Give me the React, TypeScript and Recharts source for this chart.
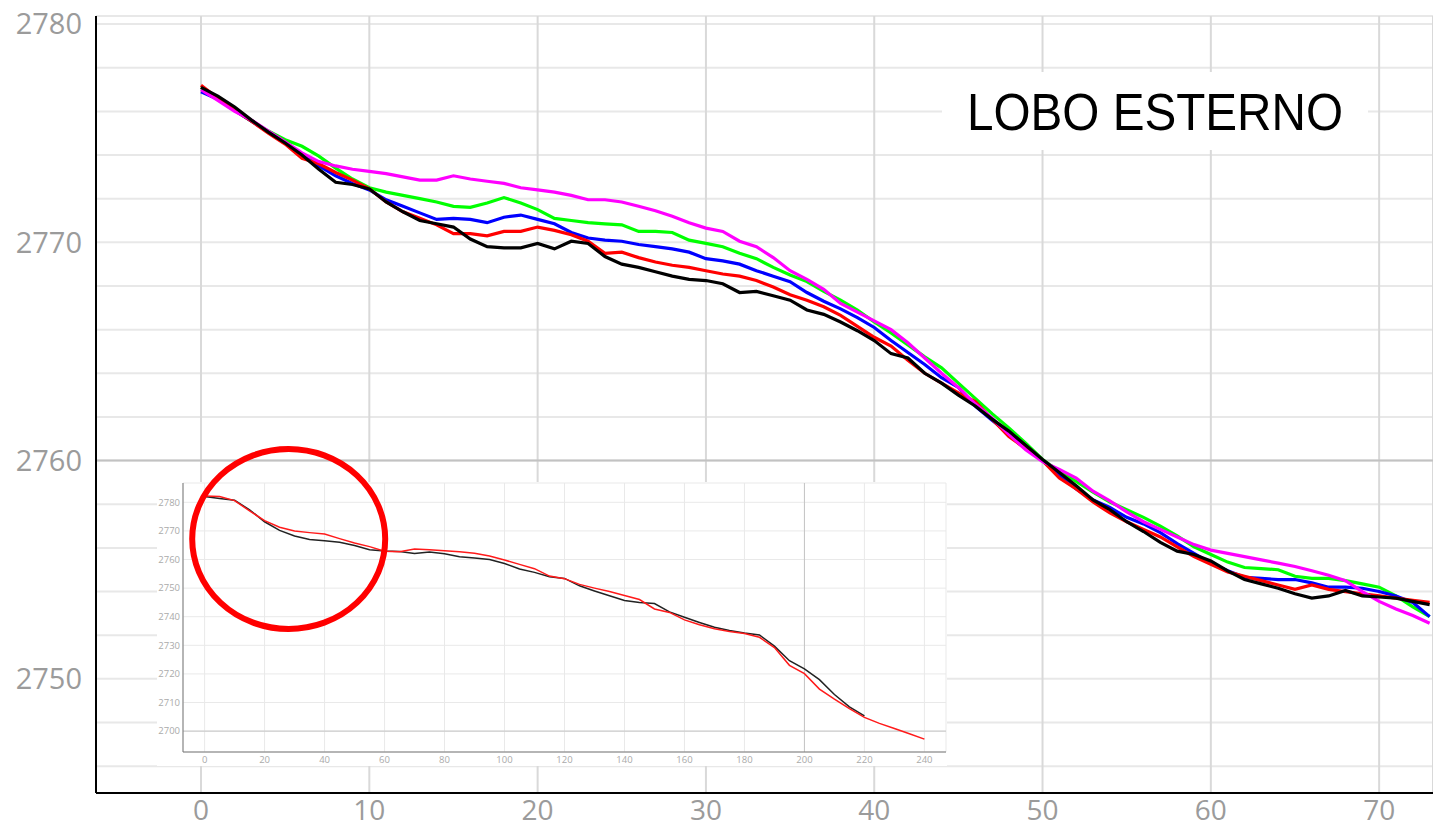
import React from 'react';
import { LineChart, Line, XAxis, YAxis, CartesianGrid, ReferenceLine } from 'recharts';

// ---------- main chart data ----------
const xValues = [
  0, 1, 2, 3, 4, 5, 6, 7, 8, 9, 10, 11, 12, 13, 14, 15, 16, 17, 18, 19,
  20, 21, 22, 23, 24, 25, 26, 27, 28, 29, 30, 31, 32, 33, 34, 35, 36, 37, 38, 39,
  40, 41, 42, 43, 44, 45, 46, 47, 48, 49, 50, 51, 52, 53, 54, 55, 56, 57, 58, 59,
  60, 61, 62, 63, 64, 65, 66, 67, 68, 69, 70, 71, 72, 73,
];

const magentaSeries = [
  2777.0, 2776.5, 2776.0, 2775.6, 2775.1, 2774.6, 2774.1, 2773.7, 2773.5, 2773.35,
  2773.25, 2773.15, 2773.0, 2772.85, 2772.85, 2773.05, 2772.9, 2772.8, 2772.7, 2772.5,
  2772.4, 2772.3, 2772.15, 2771.95, 2771.95, 2771.85, 2771.65, 2771.45, 2771.2, 2770.9,
  2770.65, 2770.5, 2770.05, 2769.8, 2769.3, 2768.7, 2768.3, 2767.85, 2767.2, 2766.8,
  2766.4, 2766.0, 2765.4, 2764.7, 2764.0, 2763.35, 2762.6, 2761.95, 2761.2, 2760.5,
  2759.95, 2759.6, 2759.2, 2758.6, 2758.15, 2757.65, 2757.2, 2756.85, 2756.5, 2756.15,
  2755.9, 2755.75, 2755.6, 2755.45, 2755.3, 2755.15, 2754.95, 2754.75, 2754.5, 2754.0,
  2753.55, 2753.2, 2752.9, 2752.55,
];

const greenSeries = [
  2777.1, 2776.55, 2776.05, 2775.55, 2775.1, 2774.7, 2774.4, 2773.95, 2773.4, 2772.9,
  2772.5, 2772.3, 2772.15, 2772.0, 2771.85, 2771.65, 2771.6, 2771.8, 2772.05, 2771.8,
  2771.5, 2771.1, 2771.0, 2770.9, 2770.85, 2770.8, 2770.5, 2770.5, 2770.45, 2770.1,
  2769.95, 2769.8, 2769.5, 2769.25, 2768.85, 2768.5, 2768.2, 2767.75, 2767.35, 2766.9,
  2766.35, 2765.85, 2765.3, 2764.75, 2764.25, 2763.55, 2762.85, 2762.15, 2761.5, 2760.8,
  2760.05, 2759.5, 2759.05, 2758.55, 2758.1, 2757.75, 2757.4, 2757.0, 2756.55, 2756.05,
  2755.7, 2755.35, 2755.1, 2755.05, 2755.0, 2754.7, 2754.6, 2754.6, 2754.5, 2754.35,
  2754.2, 2753.8, 2753.3, 2752.85,
];

const blueSeries = [
  2776.9, 2776.55, 2776.05, 2775.55, 2775.05, 2774.55, 2774.05, 2773.5, 2773.05, 2772.7,
  2772.4, 2771.95, 2771.65, 2771.35, 2771.05, 2771.1, 2771.05, 2770.9, 2771.15, 2771.25,
  2771.05, 2770.85, 2770.45, 2770.2, 2770.1, 2770.05, 2769.9, 2769.8, 2769.7, 2769.55,
  2769.25, 2769.15, 2769.0, 2768.7, 2768.45, 2768.2, 2767.7, 2767.3, 2766.95, 2766.55,
  2766.1, 2765.5, 2764.95, 2764.4, 2763.8, 2763.35, 2762.5, 2761.85, 2761.25, 2760.6,
  2760.0, 2759.3, 2758.7, 2758.2, 2757.85, 2757.4, 2757.1, 2756.7, 2756.2, 2755.75,
  2755.3, 2754.95, 2754.65, 2754.6, 2754.55, 2754.55, 2754.4, 2754.2, 2754.2, 2754.15,
  2754.0, 2753.8, 2753.5, 2752.85,
];

const redSeries = [
  2777.2, 2776.6, 2776.05, 2775.55, 2775.0, 2774.5, 2773.85, 2773.6, 2773.2, 2772.85,
  2772.45, 2771.85, 2771.4, 2771.1, 2770.8, 2770.4, 2770.4, 2770.3, 2770.5, 2770.5,
  2770.7, 2770.55, 2770.35, 2770.05, 2769.5, 2769.55, 2769.3, 2769.1, 2768.95, 2768.85,
  2768.7, 2768.55, 2768.45, 2768.25, 2767.95, 2767.6, 2767.35, 2767.05, 2766.65, 2766.15,
  2765.65, 2765.25, 2764.6, 2764.0, 2763.55, 2763.1, 2762.7, 2761.9, 2761.1, 2760.55,
  2760.0, 2759.2, 2758.7, 2758.1, 2757.6, 2757.2, 2756.85, 2756.5, 2756.05, 2755.6,
  2755.25, 2754.9, 2754.7, 2754.5, 2754.3, 2754.1, 2754.3, 2754.1, 2754.0, 2753.9,
  2753.8, 2753.7, 2753.6, 2753.5,
];

const blackSeries = [
  2777.1, 2776.7, 2776.2, 2775.6, 2775.05, 2774.55, 2774.0, 2773.35, 2772.75, 2772.65,
  2772.45, 2771.85, 2771.4, 2771.0, 2770.85, 2770.7, 2770.15, 2769.8, 2769.75, 2769.75,
  2769.95, 2769.7, 2770.05, 2769.95, 2769.35, 2769.0, 2768.85, 2768.65, 2768.45, 2768.3,
  2768.25, 2768.1, 2767.7, 2767.75, 2767.55, 2767.35, 2766.9, 2766.7, 2766.35, 2765.95,
  2765.5, 2764.9, 2764.7, 2764.0, 2763.55, 2763.0, 2762.5, 2761.9, 2761.35, 2760.7,
  2760.05, 2759.45, 2758.85, 2758.2, 2757.75, 2757.2, 2756.75, 2756.25, 2755.85, 2755.7,
  2755.4, 2754.95, 2754.55, 2754.35, 2754.15, 2753.9, 2753.7, 2753.8, 2754.05, 2753.8,
  2753.75, 2753.7, 2753.55, 2753.4,
];

const mainXTicks = [0, 10, 20, 30, 40, 50, 60, 70];
const mainYTicks = [
  2746, 2748, 2750, 2752, 2754, 2756, 2758, 2760, 2762, 2764, 2766, 2768, 2770,
  2772, 2774, 2776, 2778, 2780,
];
const mainYLabels = [2750, 2760, 2770, 2780];
const mainXDomain: [number, number] = [-6.24, 73.2];
const mainYDomain: [number, number] = [2744.77, 2780.37];

// ---------- inset chart data ----------
const insetX = [
  0, 5, 10, 15, 20, 25, 30, 35, 40, 45, 50, 55, 60, 65, 70, 75, 80, 85, 90, 95,
  100, 105, 110, 115, 120, 125, 130, 135, 140, 145, 150, 155, 160, 165, 170, 175,
  180, 185, 190, 195, 200, 205, 210, 215, 220, 225, 230, 235, 240,
];

const insetBlack = [
  2782.0, 2781.3, 2780.7, 2777.4, 2773.2, 2770.2, 2768.2, 2767.0, 2766.6, 2766.0,
  2764.9, 2763.4, 2763.0, 2762.8, 2762.1, 2762.6, 2762.0, 2761.0, 2760.5, 2760.0,
  2758.6, 2756.7, 2755.5, 2754.0, 2753.4, 2750.8, 2749.0, 2747.3, 2745.7, 2745.0,
  2744.6, 2741.7, 2739.8, 2738.0, 2736.3, 2735.2, 2734.3, 2733.6, 2729.7, 2724.6,
  2721.8, 2718.0, 2712.8, 2708.5, 2705.3, null, null, null, null,
];

const insetRed = [
  2782.2, 2782.0, 2780.6, 2777.0, 2773.6, 2771.3, 2770.0, 2769.4, 2768.9, 2767.3,
  2765.8, 2764.5, 2762.9, 2762.7, 2763.7, 2763.4, 2763.1, 2762.7, 2762.2, 2761.2,
  2759.8, 2758.3, 2756.8, 2754.2, 2753.3, 2751.3, 2750.0, 2748.8, 2747.4, 2746.0,
  2742.7, 2741.5, 2738.9, 2737.2, 2735.8, 2734.8, 2734.1, 2732.8, 2729.2, 2723.0,
  2720.1, 2714.7, 2711.2, 2707.9, 2704.8, 2702.7, 2700.9, 2699.1, 2697.2,
];

const insetXTicks = [0, 20, 40, 60, 80, 100, 120, 140, 160, 180, 200, 220, 240];
const insetYTicks = [2700, 2710, 2720, 2730, 2740, 2750, 2760, 2770, 2780];
const insetXDomain: [number, number] = [-7.2, 247.2];
const insetYDomain: [number, number] = [2692.7, 2786.75];

const titleText = 'LOBO ESTERNO';

const mainData = xValues.map((x, i) => ({
  x,
  green: greenSeries[i],
  blue: blueSeries[i],
  red: redSeries[i],
  magenta: magentaSeries[i],
  black: blackSeries[i],
}));

const insetData = insetX.map((x, i) => ({ x, black: insetBlack[i], red: insetRed[i] }));

const tickFont = "'Open Sans', 'Segoe UI', sans-serif";

export default function App() {
  return (
    <div style={{ position: 'absolute', left: 0, top: 0, width: 1433, height: 827, background: '#fff', overflow: 'hidden' }}>
      <div style={{ position: 'absolute', left: 0, top: 0 }}>
        <LineChart width={1433} height={827} data={mainData} margin={{ top: 16, right: 0, bottom: 0, left: 0 }}>
          <CartesianGrid vertical={false} stroke="#e8e8e8" strokeWidth={2} />
          <CartesianGrid horizontal={false} stroke="#d9d9d9" strokeWidth={2} />
          <ReferenceLine y={2760} stroke="#c2c2c2" strokeWidth={2} />
          <XAxis
            dataKey="x"
            type="number"
            domain={mainXDomain}
            ticks={mainXTicks}
            allowDataOverflow
            height={34}
            tickSize={0}
            tickMargin={7}
            tickLine={false}
            axisLine={{ stroke: '#000', strokeWidth: 2 }}
            tick={{ fill: '#9b9b9b', fontSize: 28, fontFamily: tickFont }}
          />
          <XAxis
            xAxisId="top"
            orientation="top"
            dataKey="x"
            type="number"
            domain={mainXDomain}
            allowDataOverflow
            height={0}
            tick={false}
            tickLine={false}
            axisLine={{ stroke: '#000', strokeWidth: 2 }}
          />
          <YAxis
            type="number"
            domain={mainYDomain}
            ticks={mainYTicks}
            allowDataOverflow
            width={96}
            tickSize={0}
            tickMargin={14}
            tickLine={false}
            interval={0}
            tickFormatter={(v: number) => (mainYLabels.includes(v) ? String(v) : '')}
            axisLine={{ stroke: '#000', strokeWidth: 2 }}
            tick={{ fill: '#9b9b9b', fontSize: 29, fontFamily: tickFont }}
          />
          <Line dataKey="green" stroke="#00ff00" strokeWidth={3.2} dot={false} isAnimationActive={false} type="linear" />
          <Line dataKey="blue" stroke="#0000ff" strokeWidth={3.2} dot={false} isAnimationActive={false} type="linear" />
          <Line dataKey="red" stroke="#ff0000" strokeWidth={3.2} dot={false} isAnimationActive={false} type="linear" />
          <Line dataKey="magenta" stroke="#ff00ff" strokeWidth={3.2} dot={false} isAnimationActive={false} type="linear" />
          <Line dataKey="black" stroke="#000000" strokeWidth={3.2} dot={false} isAnimationActive={false} type="linear" />
        </LineChart>
      </div>

      <div style={{ position: 'absolute', left: 157, top: 482, width: 790, height: 284, background: '#fff' }}>
        <LineChart width={790} height={284} data={insetData} margin={{ top: 1, right: 1, bottom: 0, left: 0 }}>
          <CartesianGrid stroke="#e9e9e9" strokeWidth={1} />
          <ReferenceLine y={2700} stroke="#c4c4c4" strokeWidth={1} />
          <ReferenceLine x={200} stroke="#c4c4c4" strokeWidth={1} />
          <XAxis
            dataKey="x"
            type="number"
            domain={insetXDomain}
            ticks={insetXTicks}
            allowDataOverflow
            height={14}
            tickSize={0}
            tickMargin={4}
            tickLine={false}
            interval={0}
            axisLine={{ stroke: '#777', strokeWidth: 1 }}
            tick={{ fill: '#aaaaaa', fontSize: 9.5, fontFamily: tickFont }}
          />
          <XAxis
            xAxisId="top"
            orientation="top"
            dataKey="x"
            type="number"
            domain={insetXDomain}
            height={0}
            tick={false}
            tickLine={false}
            axisLine={{ stroke: '#777', strokeWidth: 1 }}
          />
          <YAxis
            type="number"
            domain={insetYDomain}
            ticks={insetYTicks}
            allowDataOverflow
            width={26}
            tickSize={0}
            tickMargin={3}
            tickLine={false}
            interval={0}
            axisLine={{ stroke: '#777', strokeWidth: 1 }}
            tick={{ fill: '#aaaaaa', fontSize: 9.5, fontFamily: tickFont }}
          />
          <YAxis
            yAxisId="right"
            orientation="right"
            type="number"
            domain={insetYDomain}
            width={0}
            tick={false}
            tickLine={false}
            axisLine={{ stroke: '#777', strokeWidth: 1 }}
          />
          <Line dataKey="black" stroke="#222222" strokeWidth={1.5} dot={false} isAnimationActive={false} type="linear" />
          <Line dataKey="red" stroke="#ff1a1a" strokeWidth={1.5} dot={false} isAnimationActive={false} type="linear" />
        </LineChart>
      </div>

      <svg width={1433} height={827} style={{ position: 'absolute', left: 0, top: 0, pointerEvents: 'none' }}>
        <rect x={942} y={72} width={426} height={78} fill="#fff" />
        <text
          x={1155}
          y={129.5}
          textAnchor="middle"
          fontFamily="'Liberation Sans', Arial, sans-serif"
          fontSize={51}
          textLength={376}
          lengthAdjust="spacingAndGlyphs"
          fill="#000"
        >
          {titleText}
        </text>
        <ellipse cx={288.7} cy={539} rx={96.5} ry={90} fill="none" stroke="#ff0000" strokeWidth={6} />
      </svg>
    </div>
  );
}
